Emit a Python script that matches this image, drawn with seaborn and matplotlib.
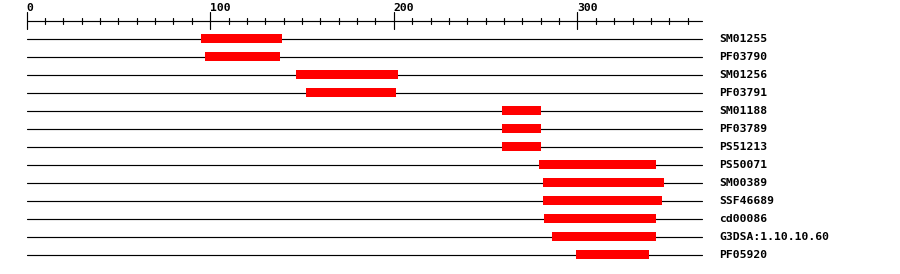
import numpy as np
import pandas as pd
import matplotlib
matplotlib.use("Agg")
import matplotlib.pyplot as plt
import seaborn as sns

# ---- data ----
features = ["SM01255", "PF03790", "SM01256", "PF03791", "SM01188", "PF03789",
            "PS51213", "PS50071", "SM00389", "SSF46689", "cd00086",
            "G3DSA:1.10.10.60", "PF05920"]
starts = [95, 97, 147, 152, 259, 259, 259, 279, 281, 281, 282, 286, 299]
ends = [139, 138, 202, 201, 280, 280, 280, 343, 347, 346, 343, 343, 339]
seq_length = 368
major_ticks = [0, 100, 200, 300]

df = pd.DataFrame({"feature": features, "start": starts, "end": ends})
df["row"] = np.arange(len(df))

sns.set_theme(style="white")
plt.rcParams["font.family"] = ["DejaVu Sans Mono", "DejaVu Sans"]

fig = plt.figure(figsize=(9, 2.74), dpi=100)
ax = fig.add_axes([0, 0, 1, 1])
ax.set_xlim(-14.43, 475.6)
ax.set_ylim(13.056, -2.1667)
ax.axis("off")

lw = 0.85

# row lines
for r in df["row"]:
    sns.lineplot(x=[0, seq_length], y=[r, r], color="black", linewidth=lw,
                 ax=ax, legend=False, sort=False)

# feature bars
ax.barh(df["row"], df["end"] - df["start"], left=df["start"], height=0.5,
        color="#ff0000", edgecolor="none", zorder=3)

# labels
for r, name in zip(df["row"], df["feature"]):
    ax.text(377, r, name, ha="left", va="center", fontsize=8.2,
            fontweight="bold", color="black")

# top ruler
ax.plot([0, seq_length], [-1, -1], color="black", linewidth=lw)
for t in range(0, seq_length, 10):
    if t % 100 == 0:
        ax.plot([t, t], [-1.5, -0.556], color="black", linewidth=lw)
    else:
        ax.plot([t, t], [-1.167, -0.833], color="black", linewidth=lw)
for t in major_ticks:
    ax.text(t, -1.47, str(t), ha="left", va="bottom", fontsize=8.2,
            fontweight="bold", color="black")

fig.savefig("out.png", dpi=100, facecolor="white")
